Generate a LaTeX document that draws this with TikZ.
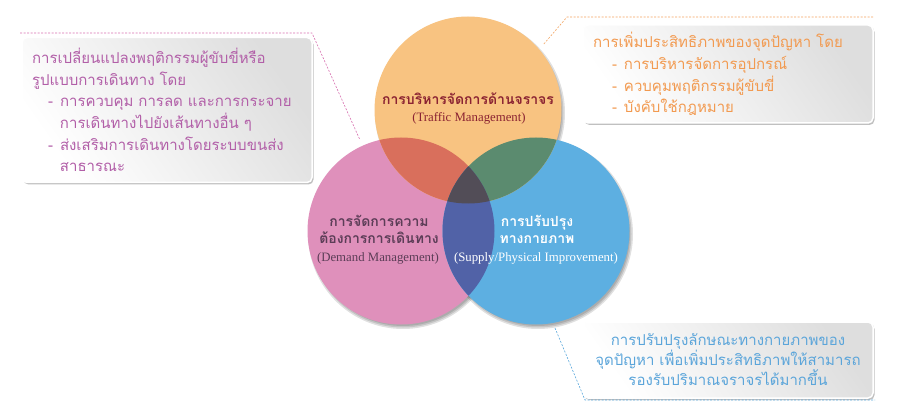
\documentclass[tikz,border=0pt]{standalone}
\usepackage{fontspec}
\usetikzlibrary{shadows}
\newfontfamily\thai[Script=Thai]{Loma}
\newfontfamily\eng{Liberation Serif}
\definecolor{trafficfill}{HTML}{F8C381}
\definecolor{demandfill}{HTML}{DF90BB}
\definecolor{supplyfill}{HTML}{5DAFE1}
\definecolor{tdmix}{HTML}{D96F5C}
\definecolor{tsmix}{HTML}{5B8B6F}
\definecolor{dsmix}{HTML}{5162A7}
\definecolor{allmix}{HTML}{524D57}
\definecolor{traffictext}{HTML}{8B2332}
\definecolor{demandtext}{HTML}{5C3D57}
\definecolor{demandnote}{HTML}{B25FA8}
\definecolor{trafficnote}{HTML}{F29A50}
\definecolor{supplynote}{HTML}{5BA5DA}
\definecolor{demandline}{HTML}{D870B0}
\definecolor{trafficline}{HTML}{F4A460}
\definecolor{supplyline}{HTML}{5AA8DC}
\newcommand\dashitem[1]{\hspace*{#1}\makebox[12pt][l]{-}}

\begin{document}
\begin{tikzpicture}[x=1pt,y=-1pt,
  venn/.style={circle,minimum size=187pt,inner sep=0pt},
  title/.style={font=\thai\bfseries\fontsize{14}{18}\selectfont,inner sep=0pt},
  subtitle/.style={font=\eng\fontsize{12.8}{15}\selectfont,inner sep=0pt},
  infobox/.style={rounded corners=5pt,draw=white,line width=1.5pt,
    left color=white,right color=black!13,shading angle=125,
    drop shadow={shadow xshift=1.5pt,shadow yshift=-2pt,opacity=.35,fill=black!70},
    inner sep=0pt,font=\thai\fontsize{15}{21.7}\selectfont},
  callout/.style={dash pattern=on 2pt off 1.5pt,line width=.6pt}]
\useasboundingbox[fill=white] (0,0) rectangle (900,417);

\coordinate (traffic) at (468,110);
\coordinate (demand) at (401,231);
\coordinate (supply) at (536,231);

\foreach \c in {traffic,demand,supply}
  \foreach \d in {0,1.5,3}
    \fill[black,opacity=.12] ([xshift=2pt,yshift=-3pt]\c) circle[radius=95pt-\d pt];

\node[venn,fill=demandfill] (demandcircle) at (demand) {};
\node[venn,fill=supplyfill] (supplycircle) at (supply) {};
\node[venn,fill=trafficfill] (trafficcircle) at (traffic) {};
\begin{scope}
  \clip (traffic) circle[radius=93.5pt];
  \fill[tdmix] (demand) circle[radius=93.5pt];
  \fill[tsmix] (supply) circle[radius=93.5pt];
\end{scope}
\begin{scope}
  \clip (demand) circle[radius=93.5pt];
  \fill[dsmix] (supply) circle[radius=93.5pt];
  \clip (supply) circle[radius=93.5pt];
  \fill[allmix] (traffic) circle[radius=93.5pt];
\end{scope}

\node[title,text=traffictext] (traffictitle) at (468,99) {การบริหารจัดการด้านจราจร};
\node[subtitle,text=traffictext] (trafficsub) at (469,118) {(Traffic Management)};
\node[title,text=demandtext,align=center] (demandtitle) at (379,229)
  {การจัดการความ\\[-1pt]ต้องการการเดินทาง};
\node[subtitle,text=demandtext] (demandsub) at (378,258) {(Demand Management)};
\node[title,text=white,align=center] (supplytitle) at (537,229)
  {การปรับปรุง\\[-1pt]ทางกายภาพ};
\node[subtitle,text=white] (supplysub) at (536,258) {(Supply/Physical Improvement)};

\node[infobox,minimum width=290pt,minimum height=145pt,text width=270pt,
  align=left,text=demandnote] (demandbox) at (167,110)
  {การเปลี่ยนแปลงพฤติกรรมผู้ขับขี่หรือ\\
   รูปแบบการเดินทาง โดย\\
   \dashitem{16pt}การควบคุม การลด และการกระจาย\\
   \hspace*{28pt}การเดินทางไปยังเส้นทางอื่น ๆ\\
   \dashitem{16pt}ส่งเสริมการเดินทางโดยระบบขนส่ง\\
   \hspace*{28pt}สาธารณะ};
\node[infobox,minimum width=290pt,minimum height=98pt,text width=270pt,
  align=left,text=trafficnote] (trafficbox) at (728,74)
  {การเพิ่มประสิทธิภาพของจุดปัญหา โดย\\
   \dashitem{19pt}การบริหารจัดการอุปกรณ์\\
   \dashitem{19pt}ควบคุมพฤติกรรมผู้ขับขี่\\
   \dashitem{19pt}บังคับใช้กฎหมาย};
\node[infobox,minimum width=290pt,minimum height=76pt,text width=270pt,
  align=center,text=supplynote,font=\thai\fontsize{15}{20}\selectfont] (supplybox) at (728,360)
  {การปรับปรุงลักษณะทางกายภาพของ\\
   จุดปัญหา เพื่อเพิ่มประสิทธิภาพให้สามารถ\\
   รองรับปริมาณจราจรได้มากขึ้น};

\coordinate (demandstart) at (20,33);
\coordinate (demandbend) at (312,33);
\coordinate (demandend) at (360,140);
\coordinate (trafficstart) at (873,17);
\coordinate (trafficbend) at (567,17);
\coordinate (trafficend) at (543,45);
\coordinate (supplystart) at (555,328);
\coordinate (supplybend) at (585,400);
\coordinate (supplyend) at (875,400);
\draw[callout,demandline] (demandstart) -- (demandbend) -- (demandend);
\draw[callout,trafficline] (trafficstart) -- (trafficbend) -- (trafficend);
\draw[callout,supplyline] (supplystart) -- (supplybend) -- (supplyend);
\end{tikzpicture}
\end{document}
